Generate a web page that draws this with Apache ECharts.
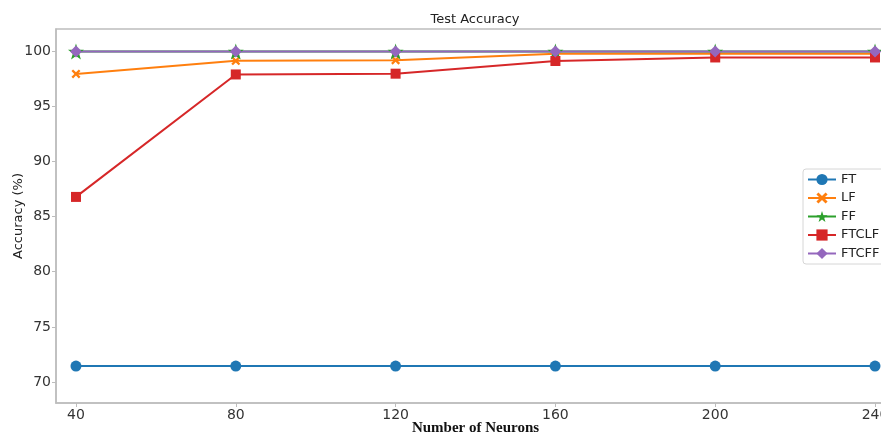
<!DOCTYPE html>
<html>
<head>
<meta charset="utf-8">
<script src="https://cdn.jsdelivr.net/npm/echarts@6/dist/echarts.min.js"></script>
<style>html,body{margin:0;padding:0;background:#fff;}#c{width:881px;height:434px;}</style>
</head>
<body>
<div id="c"></div>
<script>
const neurons = [40, 80, 120, 160, 200, 240];
const yTicks = [70, 75, 80, 85, 90, 95, 100];
const FT = [71.45, 71.45, 71.45, 71.45, 71.45, 71.45];
const LF = [97.93, 99.12, 99.17, 99.75, 99.78, 99.75];
const FF = [99.95, 99.95, 99.95, 99.95, 99.95, 99.95];
const FTCLF = [86.78, 97.88, 97.95, 99.1, 99.42, 99.42];
const FTCFF = [99.95, 99.95, 99.95, 99.95, 99.95, 99.95];

const starPath = 'path://M50,0 L61.8,35 L98,35 L68.7,57 L79.4,92 L50,70.5 L20.6,92 L31.3,57 L2,35 L38.2,35 Z';
const xPath = 'path://M0,18 L18,0 L50,32 L82,0 L100,18 L68,50 L100,82 L82,100 L50,68 L18,100 L0,82 L32,50 Z';

function pairs(vals) { return neurons.map((n, i) => [n, vals[i]]); }

function mk(name, vals, color, symbol, size) {
  return {
    name: name, type: 'line', data: pairs(vals), symbol: symbol, symbolSize: size,
    showAllSymbol: true,
    lineStyle: { color: color, width: 2 },
    itemStyle: { color: color },
    emphasis: { disabled: true },
    animation: false
  };
}

const chart = echarts.init(document.getElementById('c'), null, { renderer: 'canvas' });
chart.setOption({
  animation: false,
  backgroundColor: '#fff',
  title: {
    text: 'Test Accuracy', left: 475, top: 13, padding: 0, textAlign: 'center',
    textStyle: { fontFamily: 'DejaVu Sans', fontSize: 13, fontWeight: 'normal', color: '#222' }
  },
  grid: { left: 56, right: -14, top: 29, bottom: 31, show: true, borderColor: '#bdbdbd', borderWidth: 1.5, containLabel: false, outerBoundsMode: 'none' },
  legend: {
    orient: 'vertical', left: 803, top: 169,
    itemWidth: 28, itemHeight: 14, itemGap: 5.5,
    padding: [4, 8, 4, 4],
    borderColor: '#d6d6d6', borderWidth: 1, borderRadius: 3,
    backgroundColor: '#fff',
    textStyle: { fontFamily: 'DejaVu Sans', fontSize: 13, color: '#222' },
    data: ['FT', 'LF', 'FF', 'FTCLF', 'FTCFF']
  },
  xAxis: {
    type: 'value', min: 35, max: 245,
    name: 'Number of Neurons', nameLocation: 'middle', nameGap: 18, nameMoveOverlap: false,
    nameTextStyle: { fontFamily: 'Liberation Serif', fontWeight: 'bold', fontSize: 15, color: '#111' },
    axisLine: { show: true, lineStyle: { color: '#bdbdbd', width: 1.5 } },
    axisTick: { show: true, length: 4, lineStyle: { color: '#bdbdbd' }, customValues: neurons },
    axisLabel: { customValues: neurons, fontFamily: 'DejaVu Sans', fontSize: 14, color: '#333', margin: 5 },
    splitLine: { show: false }
  },
  yAxis: {
    type: 'value', min: 68.1, max: 102,
    name: 'Accuracy (%)', nameLocation: 'middle', nameGap: 31, nameRotate: 90, nameMoveOverlap: false,
    nameTextStyle: { fontFamily: 'DejaVu Sans', fontSize: 13, color: '#222' },
    axisLine: { show: true, lineStyle: { color: '#bdbdbd', width: 1.5 } },
    axisTick: { show: true, length: 4, lineStyle: { color: '#bdbdbd' }, customValues: yTicks },
    axisLabel: { customValues: yTicks, fontFamily: 'DejaVu Sans', fontSize: 14, color: '#333', margin: 5 },
    splitLine: { show: false }
  },
  series: [
    mk('FT', FT, '#1f77b4', 'circle', 11),
    mk('LF', LF, '#ff7f0e', xPath, 9),
    mk('FF', FF, '#2ca02c', starPath, 16),
    mk('FTCLF', FTCLF, '#d62728', 'rect', 10),
    mk('FTCFF', FTCFF, '#9467bd', 'diamond', 12)
  ]
});
</script>
</body>
</html>
